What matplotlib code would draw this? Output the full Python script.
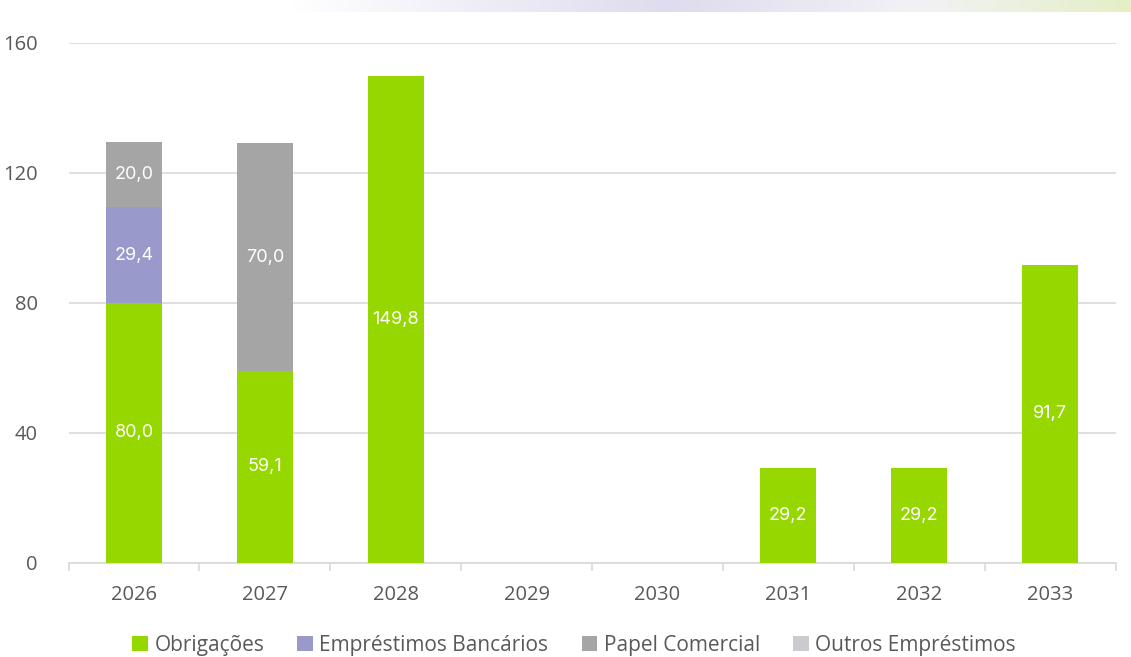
import numpy as np
import matplotlib.pyplot as plt
from matplotlib.colors import LinearSegmentedColormap

years = ["2026", "2027", "2028", "2029", "2030", "2031", "2032", "2033"]
obrigacoes = [80.0, 59.1, 149.8, 0, 0, 29.2, 29.2, 91.7]
emprestimos = [29.4, 0, 0, 0, 0, 0, 0, 0]
papel = [20.0, 70.0, 0, 0, 0, 0, 0, 0]
outros = [0, 0, 0, 0, 0, 0, 0, 0]

series = [
    ("Obrigações", obrigacoes, "#97d700"),
    ("Empréstimos Bancários", emprestimos, "#9999cc"),
    ("Papel Comercial", papel, "#a5a5a5"),
    ("Outros Empréstimos", outros, "#c9cbce"),
]

fig = plt.figure(figsize=(11.31, 6.57), dpi=100)

# decorative gradient strip at the top
band = fig.add_axes([290 / 1131, 1 - 12 / 657, 1 - 290 / 1131, 12 / 657])
cmap = LinearSegmentedColormap.from_list(
    "band", [(0, "#ffffff"), (0.45, "#dedcee"), (0.75, "#f2f2f6"), (1, "#e4efc6")])
band.imshow(np.linspace(0, 1, 256)[None, :], aspect="auto", cmap=cmap)
band.axis("off")

ax = fig.add_axes([68.5 / 1131, 94 / 657, 1047 / 1131, 520 / 657])
x = np.arange(len(years))
bottom = np.zeros(len(years))
for name, vals, col in series:
    vals = np.array(vals, dtype=float)
    ax.bar(x, vals, 0.43, bottom=bottom, color=col, label=name, zorder=3)
    for xi, b, v in zip(x, bottom, vals):
        if v > 0:
            ax.text(xi, b + v / 2, f"{v:.1f}".replace(".", ","), ha="center", va="center",
                    color="white", fontsize=13, family="Inter", zorder=4)
    bottom += vals

ax.set_xlim(-0.5, len(years) - 0.5)
ax.set_ylim(0, 160)
ax.set_yticks([0, 40, 80, 120, 160])
ax.yaxis.grid(True, color="#d9d9d9", linewidth=1.2, zorder=0)
ax.set_xticks(x)
ax.set_xticklabels(years)
ax.set_xticks(np.arange(-0.5, len(years)), minor=True)
ax.tick_params(axis="x", which="major", length=0, pad=16)
ax.tick_params(axis="x", which="minor", length=6, color="#d9d9d9", width=1.2)
ax.tick_params(axis="y", length=0, pad=22)
for lab in ax.get_xticklabels() + ax.get_yticklabels():
    lab.set_family("Open Sans")
    lab.set_fontsize(14.5)
    lab.set_color("#595959")
for s in ["top", "right", "left"]:
    ax.spines[s].set_visible(False)
ax.spines["bottom"].set_color("#d9d9d9")
ax.spines["bottom"].set_linewidth(1.2)

leg = fig.legend(loc="center", bbox_to_anchor=(574 / 1131, 1 - 645 / 657), ncol=4, frameon=False,
                 handlelength=0.75, handleheight=0.75, handletextpad=0.3, columnspacing=1.6,
                 prop={"family": "Open Sans", "size": 15})
for t in leg.get_texts():
    t.set_color("#595959")

fig.savefig("out.png", dpi=100)
